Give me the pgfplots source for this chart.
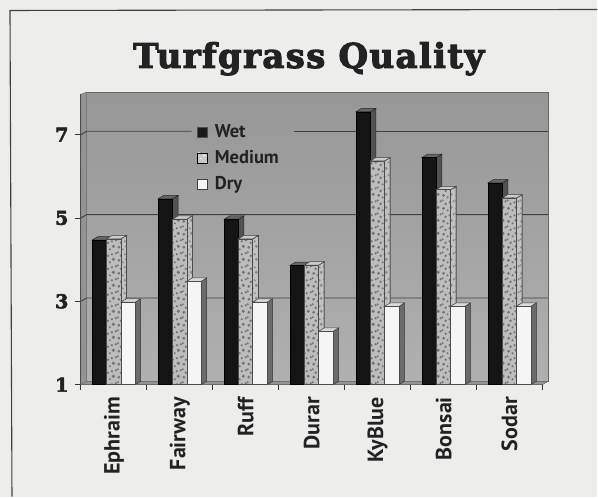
\documentclass[border=0pt]{standalone}
\usepackage{fontspec}
\setmainfont{PT Sans}
\newfontfamily\titlefont[FakeBold=3]{DejaVu Serif Bold}
\usepackage{pgfplots}
\pgfplotsset{compat=1.18}
\usetikzlibrary{patterns}
\definecolor{paper}{HTML}{EDEDEB}
\definecolor{walltop}{HTML}{979797}
\definecolor{wallbot}{HTML}{B0B0B0}
\definecolor{ink}{HTML}{222222}
% mottled fill of the Medium bars
\pgfdeclarepatternformonly{mottle}{\pgfqpoint{-1pt}{-1pt}}{\pgfqpoint{14pt}{14pt}}{\pgfqpoint{13pt}{13pt}}{
  \pgfpathcircle{\pgfqpoint{2pt}{3pt}}{1.5pt}
  \pgfpathcircle{\pgfqpoint{6pt}{1pt}}{1.1pt}
  \pgfpathcircle{\pgfqpoint{9.5pt}{4pt}}{1.7pt}
  \pgfpathcircle{\pgfqpoint{4pt}{7.5pt}}{1.3pt}
  \pgfpathcircle{\pgfqpoint{8pt}{9pt}}{1.2pt}
  \pgfpathcircle{\pgfqpoint{12pt}{10pt}}{1.2pt}
  \pgfpathcircle{\pgfqpoint{1pt}{11pt}}{1.1pt}
  \pgfusepath{fill}
}
\pgfdeclarepatternformonly{screen}{\pgfqpoint{0pt}{0pt}}{\pgfqpoint{4pt}{4pt}}{\pgfqpoint{4pt}{4pt}}{
  \pgfpathcircle{\pgfqpoint{1pt}{1pt}}{.55pt}
  \pgfpathcircle{\pgfqpoint{3pt}{3pt}}{.55pt}
  \pgfusepath{fill}
}
\tikzset{
  wetF/.style={fill=black!92,draw=black},
  wetS/.style={fill=black!68,draw=black!85,line width=.5pt},
  wetT/.style={fill=black!60,draw=black!85,line width=.5pt},
  medF/.style={fill=black!26,draw=black!70,line width=.4pt,postaction={pattern=mottle,pattern color=black!55}},
  medS/.style={fill=black!24,draw=black!75,line width=.5pt,postaction={pattern=mottle,pattern color=black!45}},
  medT/.style={fill=black!20,draw=black!75,line width=.5pt},
  dryF/.style={fill=black!4,draw=black!70,line width=.4pt},
  dryS/.style={fill=black!58,draw=black!80,line width=.5pt},
  dryT/.style={fill=black!14,draw=black!75,line width=.5pt},
}
% one 3-D bar: left edge, value, series prefix
\newcommand{\onebar}[3]{%
  \pgfmathsetmacro\xa{#1}%
  \pgfmathsetmacro\xb{#1+0.217}%
  \pgfmathsetmacro\xc{#1+0.217+0.085}%
  \pgfmathsetmacro\xd{#1+0.085}%
  \pgfmathsetmacro\yt{#2+0.08}%
  \addplot[forget plot,#3S] coordinates {(\xb,1) (\xc,1.08) (\xc,\yt) (\xb,#2)} -- cycle;
  \addplot[forget plot,#3T] coordinates {(\xa,#2) (\xd,\yt) (\xc,\yt) (\xb,#2)} -- cycle;
  \addplot[forget plot,#3F] coordinates {(\xa,1) (\xb,1) (\xb,#2) (\xa,#2)} -- cycle;
}
\newcommand{\group}[4]{%
  \pgfmathsetmacro\xw{#1+0.171}\edef\xw{\xw}\onebar{\xw}{#2}{wet}%
  \pgfmathsetmacro\xm{#1+0.388}\edef\xm{\xm}\onebar{\xm}{#3}{med}%
  \pgfmathsetmacro\xg{#1+0.605}\edef\xg{\xg}\onebar{\xg}{#4}{dry}%
}
\begin{document}
\begin{tikzpicture}[x=1pt,y=1pt]
\fill[paper] (0,0) rectangle (598,497);
\draw[black!75,line width=1.1pt] (12,0) -- (10,486.5) -- (598,487.5);
\begin{axis}[
  at={(81pt,112pt)}, anchor=south west,
  scale only axis, width=462pt, height=290.7pt,
  xmin=0, xmax=7, ymin=1, ymax=7.97, clip=false,
  axis x line*=bottom, axis y line*=left, axis line style={-,black!80,line width=.9pt},
  tick style={black!80,line width=.9pt}, tick align=outside,
  ytick={1,3,5,7},
  yticklabel style={font=\titlefont\fontsize{19}{19}\selectfont,text=ink,xshift=-3pt},
  /pgf/number format/assume math mode=true,
  major tick length=6pt, minor tick length=5pt,
  xtick={0.5,1.5,2.5,3.5,4.5,5.5,6.5},
  xticklabels={Ephraim,Fairway,Ruff,Durar,KyBlue,Bonsai,Sodar},
  minor xtick={0,1,2,3,4,5,6,7},
  major x tick style={draw=none},
  xticklabel style={rotate=90,anchor=east,font=\fontsize{22}{22}\bfseries\selectfont,text=ink,xshift=-3pt,yshift=0pt},
  title={Turfgrass Quality},
  title style={at={(axis description cs:0.4935,1.07)},anchor=base,
    font=\titlefont\fontsize{34}{34}\selectfont\addfontfeatures{LetterSpace=4},text=ink},
  legend style={at={(axis description cs:0.245,0.91)},anchor=north west,draw=none,fill=none,
    font=\fontsize{18.5}{18.5}\bfseries\selectfont,text=ink,row sep=7.5pt,
    /tikz/every odd column/.append style={column sep=5pt}},
  legend cell align=left,
  legend image code/.code={\path[#1] (0pt,-5pt) rectangle (10pt,5pt);},
]
\addlegendimage{fill=black!90,draw=black!70}
\addlegendentry{Wet}
\addlegendimage{fill=black!22,postaction={pattern=mottle,pattern color=black!12}}
\addlegendentry{Medium}
\addlegendimage{fill=black!4,draw=black!75,line width=.7pt}
\addlegendentry{Dry}

% back wall, side wall and floor
\addplot[forget plot,draw=black!60,top color=walltop,bottom color=wallbot,shading angle=0,
  postaction={pattern=screen,pattern color=black!28}]
  coordinates {(0.085,1.08) (7.085,1.08) (7.085,8.02) (0.085,8.02)} -- cycle;
\addplot[forget plot,fill=black!42,draw=black!60] coordinates {(0,1) (0.085,1.08) (0.085,8.02) (0,7.97)} -- cycle;
\addplot[forget plot,fill=black!42,draw=black!60] coordinates {(0,1) (7,1) (7.085,1.08) (0.085,1.08)} -- cycle;

% gridlines on the wall; the legend interrupts the one at 7
\addplot[forget plot,black!75,line width=.9pt] coordinates {(0,3) (0.085,3.08) (7.085,3.08)};
\addplot[forget plot,black!75,line width=.9pt] coordinates {(0,5) (0.085,5.08) (7.085,5.08)};
\addplot[forget plot,black!75,line width=.9pt] coordinates {(0,7) (0.085,7.08) (1.68,7.08)};
\addplot[forget plot,black!75,line width=.9pt] coordinates {(3.23,7.08) (7.085,7.08)};

% category, Wet, Medium, Dry
\group{0}{4.47}{4.5}{2.98}
\group{1}{5.46}{4.97}{3.48}
\group{2}{4.97}{4.5}{2.98}
\group{3}{3.86}{3.87}{2.28}
\group{4}{7.55}{6.37}{2.88}
\group{5}{6.45}{5.68}{2.88}
\group{6}{5.84}{5.48}{2.88}
\end{axis}
\end{tikzpicture}
\end{document}
